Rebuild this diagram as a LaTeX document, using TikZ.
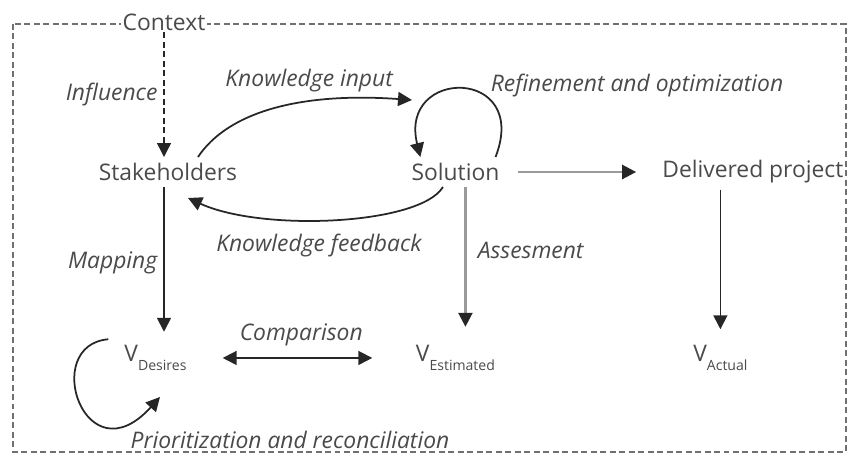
\documentclass[tikz,border=0pt]{standalone}
\usepackage{fontspec}
\setmainfont{Open Sans}
\usepackage{xcolor}
\usetikzlibrary{positioning, arrows.meta}

\definecolor{txtgray}{HTML}{4A4A4A}
\definecolor{linegray}{HTML}{9A9A9A}
\definecolor{arrowdark}{HTML}{262626}
\definecolor{framegray}{HTML}{707070}

\newcommand{\vsub}[1]{V\raisebox{-0.7ex}{\fontsize{8}{9}\selectfont #1}}

\begin{document}
\begin{tikzpicture}[x=0.02cm, y=-0.02cm, node distance=3.72cm and 5.75cm, on grid,
    >={Triangle[length=0.28cm, width=0.28cm]},
    every node/.style={text=txtgray, font=\fontsize{13}{15}\selectfont},
    lbl/.style={font=\fontsize{13}{15}\selectfont\itshape},
    flow/.style={->, draw=arrowdark, line width=1pt},
    gflow/.style={-{Triangle[length=0.28cm, width=0.28cm, color=arrowdark]}, draw=linegray, line width=1.4pt},
    frame/.style={draw=framegray, line width=0.8pt, dash pattern=on 3.4pt off 2pt}]

    \useasboundingbox (0,0) rectangle (850,457);

    % context frame
    \draw[frame] (13,24) rectangle (846,452);
    \node[fill=white, inner sep=1pt] (ctx) at (164,22) {Context};

    % main nodes
    \node (stake) at (168,172) {Stakeholders};
    \node (sol) [right=of stake] {Solution};
    \node (deliv) [right=5.95cm of sol] {Delivered project};
    \node (vdes) [below=of stake, xshift=-0.25cm] {\vsub{Desires}};
    \node (vest) [below=of sol] {\vsub{Estimated}};
    \node (vact) [below=of deliv, xshift=-0.65cm] {\vsub{Actual}};

    % straight connectors
    \draw[flow, frame, draw=arrowdark] (ctx.south) -- (ctx.south |- stake.north)
        node[lbl, midway, left] {Influence};
    \draw[flow, shorten >=0.15cm] (stake.south -| ctx.south) -- (ctx.south |- vdes.north)
        node[lbl, midway, left] {Mapping};
    \draw[gflow, shorten >=0.25cm] ([xshift=0.2cm]sol.south) -- ([xshift=0.2cm]sol.south |- vest.north)
        node[lbl, pos=0.42, right, xshift=3pt] {Assesment};
    \draw[gflow, shorten <=0.25cm, shorten >=0.4cm] (sol) -- (sol -| deliv.west);
    \draw[flow, shorten >=0.2cm] (vact.north |- deliv.south) -- (vact.north);
    \draw[flow, <->, shorten <=0.6cm, shorten >=0.75cm] (vdes.east) -- (vdes.east -| vest.west)
        node[lbl, midway, above, yshift=3pt] {Comparison};

    % knowledge exchange
    \draw[flow] ([xshift=0.6cm]stake.north) .. controls (228,112) and (300,92) .. (412,100)
        node[lbl, pos=0.65, above, yshift=2pt] {Knowledge input};
    \draw[flow] ([xshift=-0.25cm]sol.south) .. controls (420,225) and (262,232) .. (188,198)
        node[lbl, pos=0.55, below, yshift=-4pt] {Knowledge feedback};

    % loops
    \draw[flow] ([xshift=-0.2cm]sol.north east) .. controls +(35,-90) and +(-22,-90) .. ([xshift=0.3cm]sol.north west);
    \node[lbl] (refine) at (637,86) {Refinement and optimization};
    \draw[flow] ([xshift=-0.2cm]vdes.north west) .. controls (40,345) and (85,480) .. (160,397);
    \node[lbl] (prior) at (290,440) {Prioritization and reconciliation};

\end{tikzpicture}
\end{document}
